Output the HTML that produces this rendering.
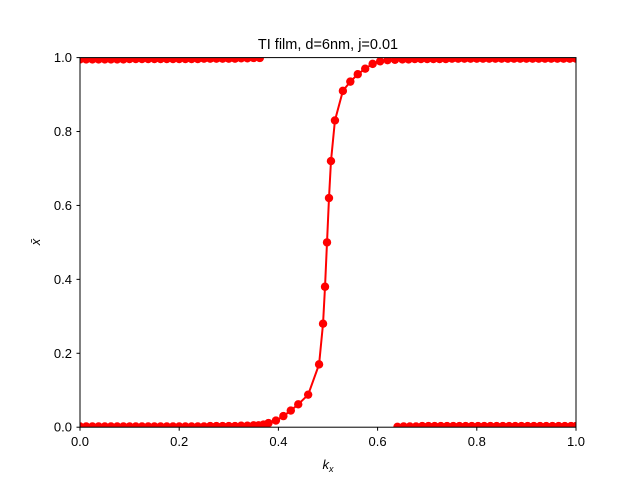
<!DOCTYPE html>
<html><head><meta charset="utf-8"><style>
body{margin:0;background:#fff}
svg{display:block;font-family:"Liberation Sans","DejaVu Sans",sans-serif}
</style></head><body>
<svg id="chart" width="640" height="480">
<defs><clipPath id="ax"><rect x="80" y="57.6" width="496" height="369.6"/></clipPath></defs>
<rect width="640" height="480" fill="#fff"/>
<text x="328" y="49" text-anchor="middle" font-size="14.5">TI film, d=6nm, j=0.01</text>
<g id="marks" clip-path="url(#ax)"></g>
<rect x="80" y="57.6" width="496" height="369.6" fill="none" stroke="#000" stroke-width="1"/>
<g id="ticks"></g>
<text x="328" y="469" text-anchor="middle" font-size="13" font-style="italic">k<tspan font-size="9" dy="3">x</tspan></text>
<text x="0" y="0" transform="translate(40,242) rotate(-90)" text-anchor="middle" font-size="13" font-style="italic">x̄</text>
</svg>
<script>
const xTicks=[0,0.2,0.4,0.6,0.8,1.0];
const yTicks=[0,0.2,0.4,0.6,0.8,1.0];
const tickLabels=["0.0","0.2","0.4","0.6","0.8","1.0"];
const mainK=[0,0.0125,0.025,0.0375,0.05,0.0625,0.075,0.0875,0.1,0.1125,0.125,0.1375,0.15,0.1625,0.175,0.1875,0.2,0.2125,0.225,0.2375,0.25,0.2625,0.275,0.2875,0.3,0.3125,0.325,0.3375,0.35,0.36,0.37,0.38,0.395,0.41,0.425,0.44,0.46,0.482,0.49,0.494,0.498,0.502,0.506,0.514,0.53,0.545,0.56,0.575,0.59,0.605,0.62,0.635,0.65,0.6625,0.675,0.6875,0.7,0.7125,0.725,0.7375,0.75,0.7625,0.775,0.7875,0.8,0.8125,0.825,0.8375,0.85,0.8625,0.875,0.8875,0.9,0.9125,0.925,0.9375,0.95,0.9625,0.975,0.9875,1.0];
const mainV=[0.002,0.002,0.002,0.002,0.002,0.002,0.002,0.002,0.002,0.002,0.002,0.002,0.002,0.002,0.002,0.002,0.002,0.002,0.002,0.002,0.002,0.003,0.003,0.003,0.003,0.003,0.004,0.004,0.005,0.005,0.007,0.011,0.018,0.03,0.045,0.062,0.088,0.17,0.28,0.38,0.5,0.62,0.72,0.83,0.91,0.935,0.955,0.97,0.983,0.99,0.993,0.994,0.995,0.995,0.996,0.996,0.996,0.996,0.996,0.996,0.997,0.997,0.997,0.997,0.997,0.997,0.997,0.997,0.997,0.997,0.997,0.997,0.997,0.997,0.997,0.997,0.997,0.997,0.997,0.997,0.997];
const upperK=[0,0.0125,0.025,0.0375,0.05,0.0625,0.075,0.0875,0.1,0.1125,0.125,0.1375,0.15,0.1625,0.175,0.1875,0.2,0.2125,0.225,0.2375,0.25,0.2625,0.275,0.2875,0.3,0.3125,0.325,0.3375,0.35,0.3625];
const upperV=[0.995,0.995,0.995,0.995,0.995,0.995,0.995,0.995,0.996,0.996,0.996,0.996,0.996,0.996,0.996,0.996,0.996,0.996,0.996,0.996,0.997,0.997,0.997,0.997,0.997,0.997,0.998,0.998,0.999,0.999];
const lowerK=[0.64,0.6525,0.665,0.6775,0.69,0.7025,0.715,0.7275,0.74,0.7525,0.765,0.7775,0.79,0.8025,0.815,0.8275,0.84,0.8525,0.865,0.8775,0.89,0.9025,0.915,0.9275,0.94,0.9525,0.965,0.9775,0.99,1.0];
const lowerV=[0.001,0.002,0.002,0.002,0.003,0.003,0.003,0.003,0.003,0.003,0.003,0.003,0.003,0.003,0.003,0.003,0.003,0.003,0.003,0.003,0.003,0.003,0.003,0.003,0.003,0.003,0.003,0.003,0.003,0.003];
const NS='http://www.w3.org/2000/svg';
const X=k=>80+496*k, Y=v=>427.2-369.6*v;
const marks=document.getElementById('marks'), ticks=document.getElementById('ticks');
function series(ks,vs,name){
  const g=document.createElementNS(NS,'g');
  
  
  const pl=document.createElementNS(NS,'polyline');
  pl.setAttribute('points',ks.map((k,i)=>X(k)+','+Y(vs[i])).join(' '));
  pl.setAttribute('fill','none');pl.setAttribute('stroke','#f00');pl.setAttribute('stroke-width','2');
  
  
  g.appendChild(pl);
  ks.forEach((k,i)=>{const c=document.createElementNS(NS,'circle');
    c.setAttribute('cx',X(k));c.setAttribute('cy',Y(vs[i]));c.setAttribute('r','4.2');c.setAttribute('fill','#f00');
    
    
    g.appendChild(c);});
  marks.appendChild(g);
}
series(upperK,upperV,'upper-series');
series(lowerK,lowerV,'lower-series');
series(mainK,mainV,'main-series');
xTicks.forEach((t,i)=>{
  const l=document.createElementNS(NS,'line');
  l.setAttribute('x1',X(t));l.setAttribute('x2',X(t));l.setAttribute('y1',427.2);l.setAttribute('y2',430.7);l.setAttribute('stroke','#000');
  
  
  ticks.appendChild(l);
  const tx=document.createElementNS(NS,'text');
  tx.setAttribute('x',X(t));tx.setAttribute('y',446);tx.setAttribute('text-anchor','middle');tx.setAttribute('font-size','13');
  tx.textContent=tickLabels[i];
  
  
  ticks.appendChild(tx);
});
yTicks.forEach((t,i)=>{
  const l=document.createElementNS(NS,'line');
  l.setAttribute('x1',76.5);l.setAttribute('x2',80);l.setAttribute('y1',Y(t));l.setAttribute('y2',Y(t));l.setAttribute('stroke','#000');
  
  
  ticks.appendChild(l);
  const tx=document.createElementNS(NS,'text');
  tx.setAttribute('x',72);tx.setAttribute('y',Y(t)+4.5);tx.setAttribute('text-anchor','end');tx.setAttribute('font-size','13');
  tx.textContent=tickLabels[i];
  
  
  ticks.appendChild(tx);
});
</script>
</body></html>
